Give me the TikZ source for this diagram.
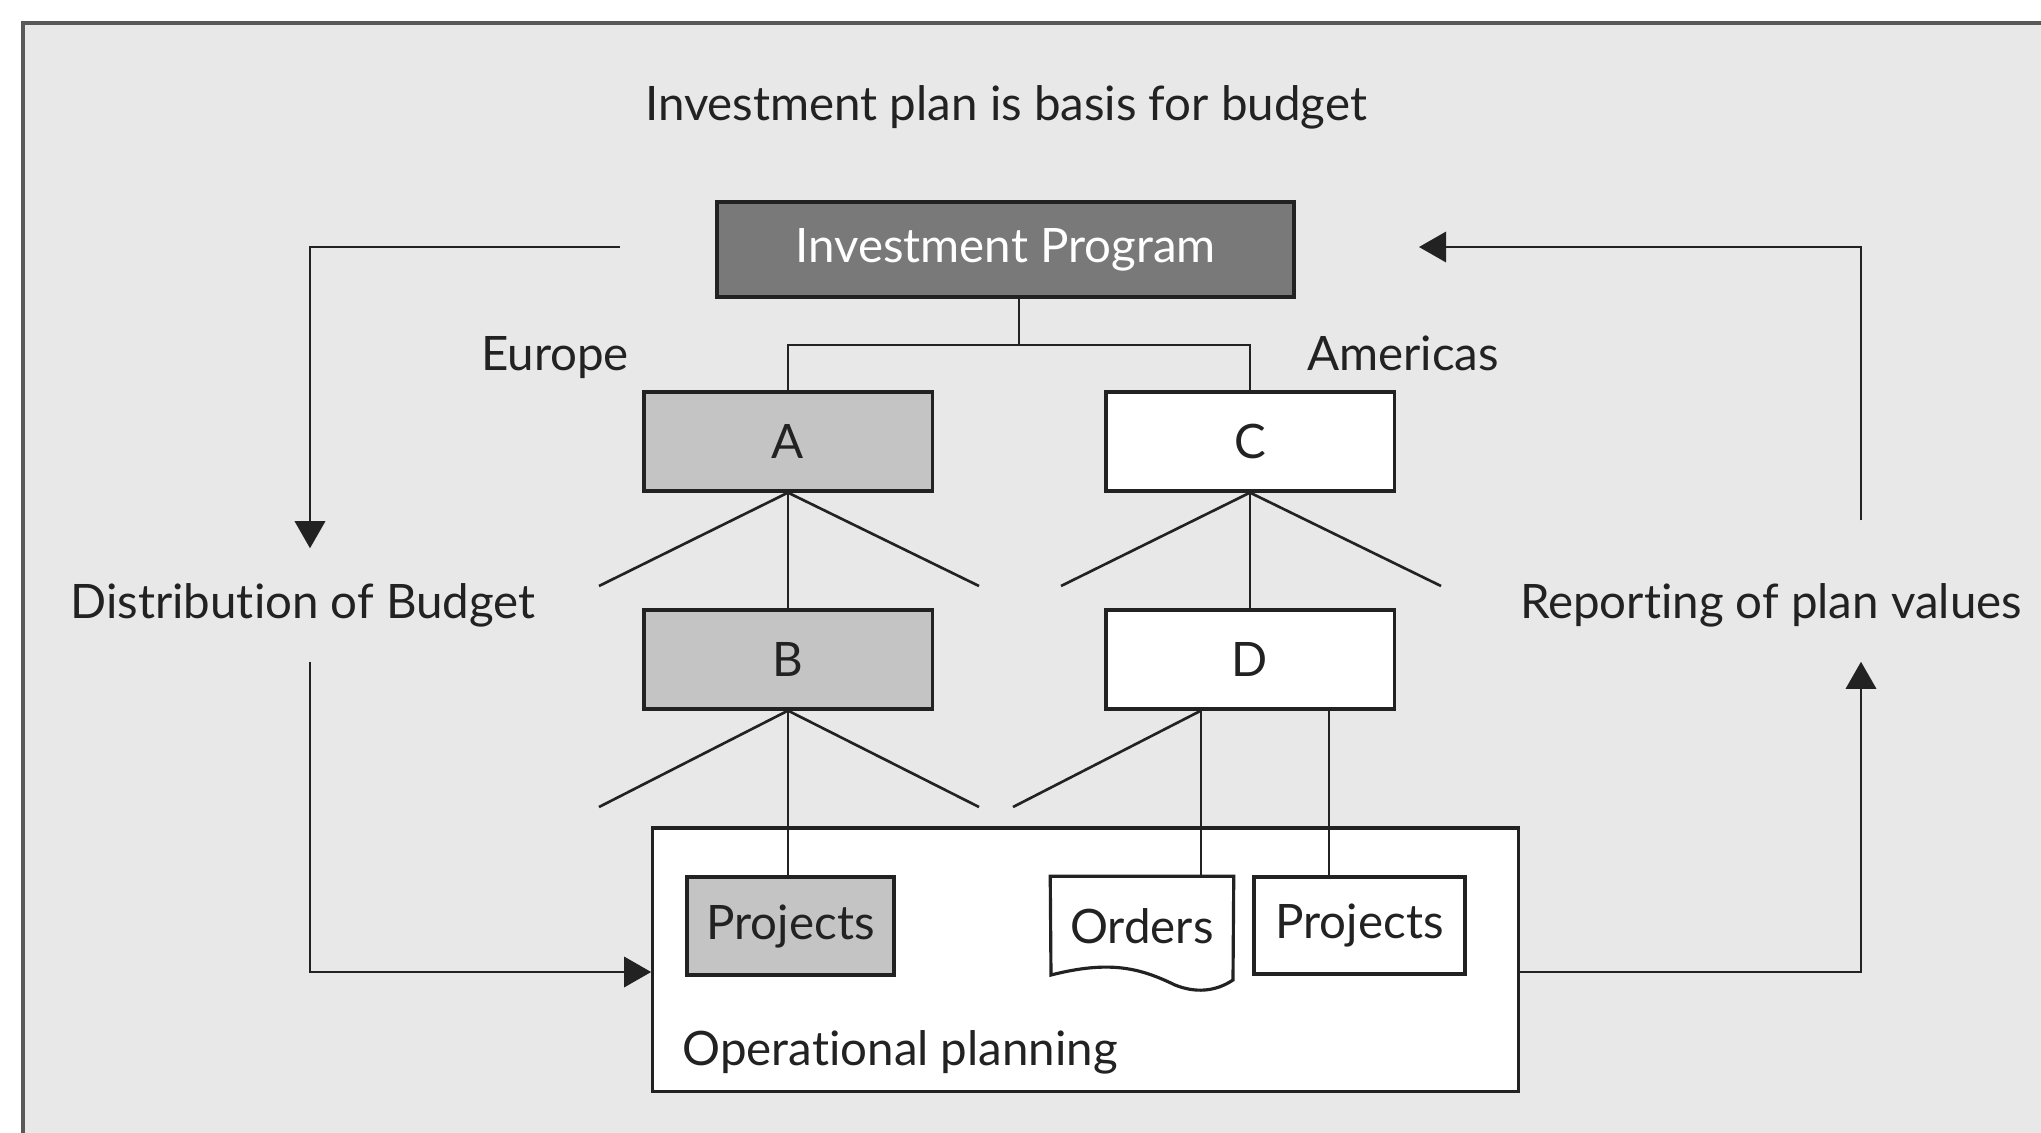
\documentclass[tikz,border=0pt]{standalone}
\usepackage{fontspec}
\setmainfont{Lato}[Ligatures=NoCommon]
\usetikzlibrary{arrows.meta,calc}
\definecolor{bggray}{HTML}{E8E8E8}
\definecolor{darkbox}{HTML}{797979}
\definecolor{midbox}{HTML}{C4C4C4}
\definecolor{ink}{HTML}{222222}
\begin{document}
\begin{tikzpicture}[x=0.01cm,y=-0.01cm,
  font=\fontsize{13.5pt}{16pt}\selectfont,
  every node/.style={text=ink},
  box/.style={draw=ink,line width=0.9pt,inner sep=0pt,minimum width=2.88cm,minimum height=0.99cm},
  link/.style={draw=ink,line width=0.75pt},
  flow/.style={draw=ink,line width=0.8pt,-{Triangle[length=7.7pt,width=8.6pt]}},
  lbl/.style={inner sep=0pt}]
\useasboundingbox (0,0) rectangle (2041,1133);
\fill[white] (0,0) rectangle (2041,1133);
\begin{scope}
\clip (0,0) rectangle (2041,1133);
\draw[fill=bggray,draw=black!65,line width=1.1pt] (23,23) rectangle (2080,1180);
\end{scope}

\node[lbl] (title) at (1006,107) {Investment plan is basis for budget};

\node[box,fill=darkbox,line width=1.1pt,minimum width=5.77cm,minimum height=0.95cm,text=white] (prog) at (1005.5,249.5) {\raisebox{-1pt}{Investment Program}};

\node[box,fill=midbox] (A) at (788,441.5) {A};
\node[box,fill=white] (C) at (1250,441.5) {C};
\node[box,fill=midbox] (B) at (788,659.5) {B};
\node[box,fill=white] (D) at (1250,659.5) {D};

\node[lbl] (eu) at (555,358) {Europe};
\node[lbl] (am) at (1403,353) {Americas};

\node[box,fill=white,minimum width=8.65cm,minimum height=2.63cm] (op) at (1085.5,959.5) {};
\node[lbl,anchor=west] (optxt) at (682,1052) {Operational planning};

\node[box,fill=midbox,minimum width=2.07cm,minimum height=0.98cm] (projL) at (790.5,926) {\raisebox{-1pt}{Projects}};
\node[inner sep=0pt,minimum width=1.82cm,minimum height=0.98cm] (orders) at (1142,926) {};
\draw[draw=ink,line width=0.9pt,fill=white]
  (orders.north west) -- (orders.north east) -- (1233,980)
  .. controls (1215,992) and (1195,993) .. (1175,985)
  .. controls (1140,968) and (1110,960) .. (1051,975) -- cycle;
\node[lbl] at (1142,926) {Orders};
\node[box,fill=white,minimum width=2.11cm,minimum height=0.97cm] (projR) at (1359.5,925.5) {\raisebox{-1pt}{Projects}};

% tree connectors
\coordinate (jn) at (1019,345);
\draw[link] (prog.south -| jn) -- (jn);
\draw[link] (A.north) |- (jn) -| (C.north);

\coordinate (a1) at (599,586);
\coordinate (a2) at (979,586);
\draw[link] (a1) -- (A.south) -- (a2);
\draw[link] (A.south) -- (B.north);

\coordinate (c1) at (1061,586);
\coordinate (c2) at (1441,586);
\draw[link] (c1) -- (C.south) -- (c2);
\draw[link] (C.south) -- (D.north);

\coordinate (b1) at (599,807);
\coordinate (b2) at (979,807);
\draw[link] (b1) -- (B.south) -- (b2);
\draw[link] (B.south) -- (B.south |- projL.north);

\coordinate (d0) at ($(D.south)+(-49,0)$);
\coordinate (d3) at ($(D.south)+(79,0)$);
\coordinate (d1) at (1013,807);
\draw[link] (d1) -- (d0);
\draw[link] (d0) -- (d0 |- orders.north);
\draw[link] (d3) -- (d3 |- projR.north);

% flow labels
\node[lbl,minimum height=1.12cm] (dist) at (303,605) {\raisebox{-4pt}{Distribution of Budget}};
\node[lbl,minimum height=1.12cm] (rep) at (1771,605) {\raisebox{-4pt}{Reporting of plan values}};

\coordinate (l1) at (620,247);
\coordinate (r1) at (1419,247);
\draw[flow] (l1) -| ($(dist.north)+(7,0)$);
\draw[flow] ($(dist.south)+(7,0)$) |- ($(op.west)+(0,12.5)$);
\draw[flow] ($(op.east)+(0,12.5)$) -| ($(rep.south)+(90,0)$);
\draw[flow] ($(rep.north)+(90,-28)$) |- (r1);
\end{tikzpicture}
\end{document}
